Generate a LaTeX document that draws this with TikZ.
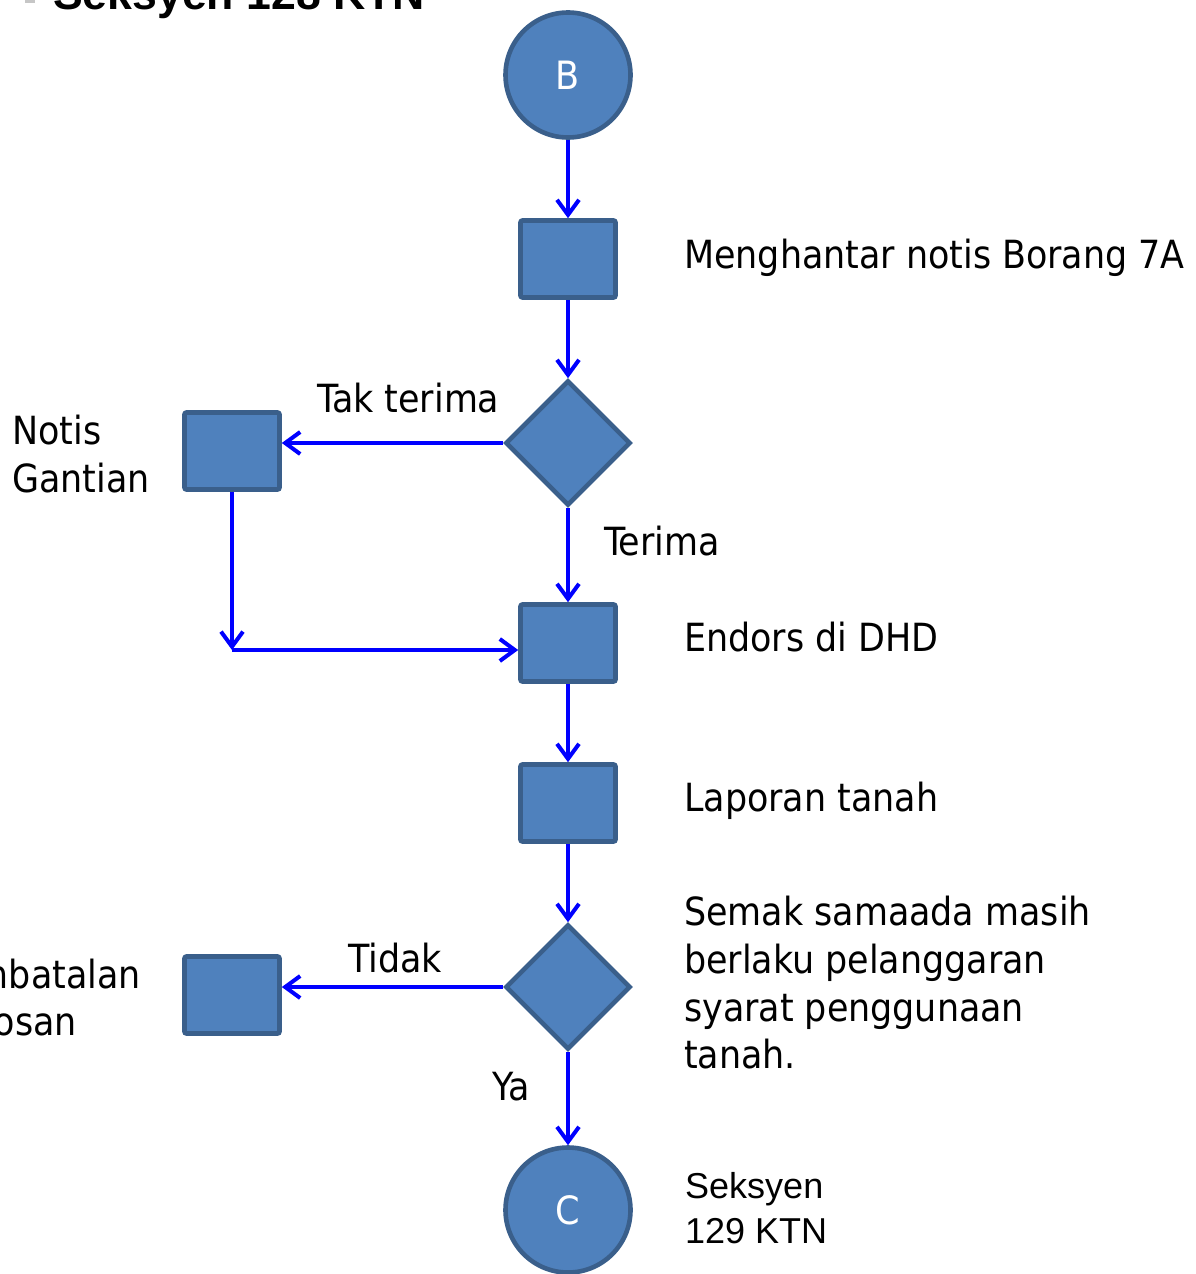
\documentclass[tikz,border=0pt]{standalone}
\usepackage{fontspec}
\setmainfont{DejaVu Sans Condensed}
\newfontfamily\arialfont{Liberation Sans}
\usetikzlibrary{shapes.geometric,arrows.meta}
\definecolor{boxfill}{HTML}{4F81BD}
\definecolor{boxline}{HTML}{3A5F8B}
\definecolor{flow}{HTML}{0000FF}
\begin{document}
\begin{tikzpicture}[x=1pt,y=-1pt,
  stepbox/.style={rectangle,draw=boxline,fill=boxfill,line width=4.6pt,rounded corners=2pt,
    minimum width=95pt,minimum height=77pt,inner sep=0pt},
  termnode/.style={circle,draw=boxline,fill=boxfill,line width=4.6pt,minimum size=125pt,
    inner sep=0pt,text=white,font=\fontsize{39}{47.5}\selectfont},
  decision/.style={diamond,draw=boxline,fill=boxfill,line width=4.6pt,minimum width=125pt,
    minimum height=125pt,inner sep=0pt},
  lbl/.style={anchor=base west,inner sep=0pt,font=\fontsize{38.8}{47.5}\selectfont},
  lblarial/.style={anchor=base west,inner sep=0pt,font=\arialfont\fontsize{36}{45}\selectfont},
  flowline/.style={draw=flow,line width=4pt,-{Straight Barb[length=15pt,width=22pt,line width=4pt]}},
  plainline/.style={draw=flow,line width=4pt}
]
\useasboundingbox (0,0) rectangle (1195,1274);
\clip (0,0) rectangle (1195,1274);

% title (cropped)
\fill[gray!45] (25,0) rectangle (35,3);
\node[anchor=base west,inner sep=0pt,font=\arialfont\bfseries\fontsize{44.6}{50}\selectfont] (title) at (53,9.5) {Seksyen 128 KTN};

% nodes
\node[termnode] (B) at (568,75) {B};
\node[stepbox] (s1) at (568,259) {};
\node[decision] (d1) at (568,443) {};
\node[stepbox] (notis) at (232,451) {};
\node[stepbox] (s2) at (568,643) {};
\node[stepbox] (s3) at (568,803) {};
\node[decision] (d2) at (568,987) {};
\node[stepbox] (batal) at (232,995) {};
\node[termnode] (C) at (568,1210) {C};
\coordinate (j) at (232,650);

% labels
\node[lbl] (t1) at (684,268) {Menghantar notis Borang 7A};
\node[lbl] (t2) at (317,412) {Tak terima};
\node[lbl] (t3a) at (12,444) {Notis};
\node[lbl] (t3b) at (12,492) {Gantian};
\node[lbl] (t4) at (604,555) {Terima};
\node[lbl] (t5) at (684,651) {Endors di DHD};
\node[lbl] (t6) at (684,811) {Laporan tanah};
\node[lbl] (t7a) at (684,925) {Semak samaada masih};
\node[lbl] (t7b) at (684,973) {berlaku pelanggaran};
\node[lbl] (t7c) at (684,1021) {syarat penggunaan};
\node[lbl] (t7d) at (684,1068) {tanah.};
\node[lbl] (t8) at (348,972) {Tidak};
\node[lbl,anchor=base east] (t9a) at (141,988) {Pembatalan};
\node[lbl,anchor=base east] (t9b) at (77,1035) {Kelulosan};
\node[lbl] (t10) at (492,1100) {Ya};
\node[lblarial] (t11a) at (685,1198) {Seksyen};
\node[lblarial] (t11b) at (685,1243) {129 KTN};

% connectors
\draw[flowline] (B.south) -- (s1.north);
\draw[flowline] (s1.south) -- (d1.north);
\draw[flowline] (d1.west) -- (d1.west -| notis.east);
\draw[flowline] (notis.south) -- (j);
\draw[flowline] (j) -- (j -| s2.west);
\draw[flowline] (d1.south) -- (s2.north);
\draw[flowline] (s2.south) -- (s3.north);
\draw[flowline] (s3.south) -- (d2.north);
\draw[flowline] (d2.west) -- (d2.west -| batal.east);
\draw[flowline] (d2.south) -- (C.north);
\end{tikzpicture}
\end{document}
